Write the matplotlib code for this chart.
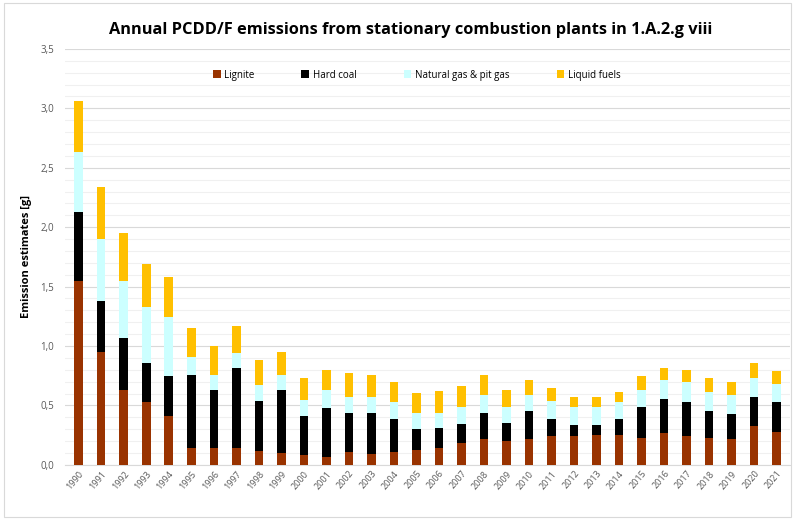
import matplotlib
matplotlib.use("Agg")
import matplotlib.pyplot as plt
from matplotlib.ticker import MultipleLocator, FuncFormatter
import numpy as np

years = [str(y) for y in range(1990, 2022)]
lignite = [1.55, 0.95, 0.63, 0.53, 0.41, 0.14, 0.14, 0.14, 0.115, 0.10, 0.085, 0.07, 0.11, 0.09, 0.105, 0.125,
           0.14, 0.18, 0.22, 0.205, 0.22, 0.24, 0.24, 0.25, 0.25, 0.225, 0.27, 0.24, 0.225, 0.215, 0.325, 0.275]
hard_coal = [0.58, 0.43, 0.44, 0.33, 0.335, 0.62, 0.49, 0.675, 0.425, 0.53, 0.325, 0.41, 0.33, 0.35, 0.28, 0.175,
             0.17, 0.165, 0.22, 0.145, 0.23, 0.15, 0.095, 0.085, 0.135, 0.26, 0.285, 0.285, 0.23, 0.215, 0.25, 0.25]
natural_gas = [0.50, 0.52, 0.48, 0.47, 0.50, 0.145, 0.13, 0.125, 0.135, 0.13, 0.14, 0.15, 0.135, 0.135, 0.14, 0.135,
               0.13, 0.145, 0.15, 0.135, 0.14, 0.15, 0.15, 0.155, 0.145, 0.145, 0.155, 0.17, 0.155, 0.16, 0.155, 0.155]
liquid = [0.43, 0.44, 0.40, 0.36, 0.335, 0.245, 0.24, 0.23, 0.21, 0.19, 0.18, 0.165, 0.195, 0.18, 0.175, 0.17,
          0.18, 0.17, 0.165, 0.145, 0.12, 0.11, 0.09, 0.085, 0.08, 0.115, 0.105, 0.10, 0.12, 0.105, 0.13, 0.11]

series = [("Lignite", lignite, "#993300"),
          ("Hard coal", hard_coal, "#000000"),
          ("Natural gas & pit gas", natural_gas, "#CCFFFF"),
          ("Liquid fuels", liquid, "#FFC000")]

plt.rcParams['font.family'] = ['Open Sans', 'DejaVu Sans']

fig = plt.figure(figsize=(7.95, 5.2), dpi=100)
ax = fig.add_axes([0.082, 0.106, 0.912, 0.8])

x = np.arange(len(years))
bottom = np.zeros(len(years))
for name, vals, col in series:
    v = np.array(vals)
    ax.bar(x, v, 0.38, bottom=bottom, color=col, label=name, zorder=3)
    bottom += v

ax.set_ylim(0, 3.5)
ax.set_xlim(-0.6, len(years) - 0.4)
ax.yaxis.set_major_locator(MultipleLocator(0.5))
ax.yaxis.set_minor_locator(MultipleLocator(0.1))
ax.yaxis.set_major_formatter(FuncFormatter(lambda v, p: f"{v:.1f}".replace(".", ",")))
ax.grid(axis='y', which='major', color='#d9d9d9', linewidth=0.8, zorder=0)
ax.grid(axis='y', which='minor', color='#f0f0f0', linewidth=0.8, zorder=0)
for s in ['top', 'right', 'left']:
    ax.spines[s].set_visible(False)
ax.spines['bottom'].set_color('#d9d9d9')
ax.tick_params(axis='y', which='both', length=0, labelsize=7, labelcolor='#595959', pad=8)
ax.tick_params(axis='x', length=0, labelsize=6.5, labelcolor='#595959', pad=3)
ax.set_xticks(x)
ax.set_xticklabels(years, rotation=50, ha='right', rotation_mode='anchor')
ax.set_ylabel("Emission estimates [g]", fontsize=8, fontweight='bold', labelpad=6)

fig.suptitle("Annual PCDD/F emissions from stationary combustion plants in 1.A.2.g viii",
             fontsize=11.8, fontweight='bold', x=0.516, y=0.958)

leg = ax.legend(loc='center', bbox_to_anchor=(0.485, 0.937), ncol=4, frameon=False,
                fontsize=7, handlelength=0.8, handleheight=0.8, columnspacing=4.8, handletextpad=0.4)

fig.patches.append(plt.Rectangle((0.005, 0.005), 0.99, 0.99, transform=fig.transFigure,
                                 fill=False, edgecolor='#d9d9d9', linewidth=0.8))

fig.savefig("out.png", dpi=100)
